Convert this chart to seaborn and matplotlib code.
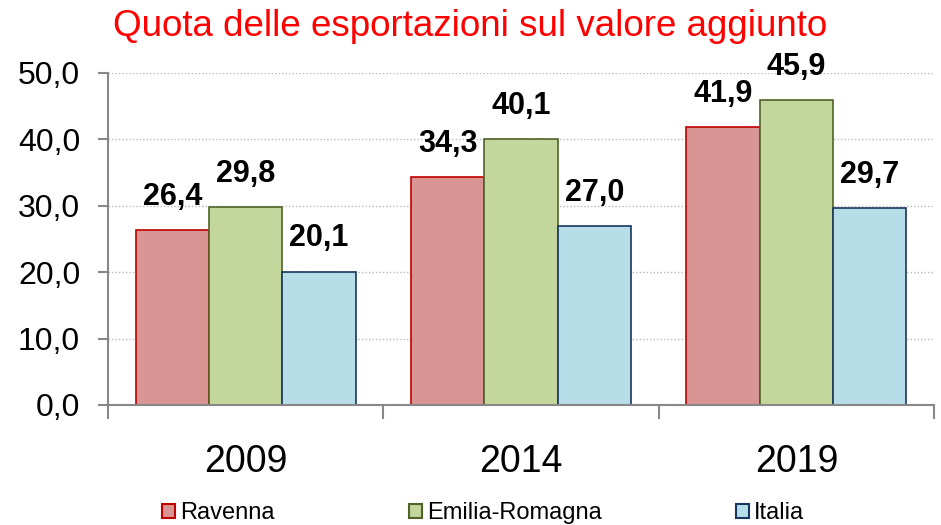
import pandas as pd
import matplotlib.pyplot as plt
import seaborn as sns
from matplotlib.patches import Patch
from matplotlib.ticker import FixedLocator

years = ['2009', '2014', '2019']
areas = ['Ravenna', 'Emilia-Romagna', 'Italia']
ravenna = [26.4, 34.3, 41.9]
emilia = [29.8, 40.1, 45.9]
italia = [20.1, 27.0, 29.7]

fills = ['#D99594', '#C3D69B', '#B7DEE8']
edges = ['#C00000', '#4F6228', '#17375E']

df = pd.DataFrame({
    'anno': years * 3,
    'area': [a for a in areas for _ in years],
    'quota': ravenna + emilia + italia,
})

sns.set_style('white')
plt.rcParams['font.family'] = ['Liberation Sans', 'DejaVu Sans']
plt.rcParams['text.color'] = 'black'
plt.rcParams['xtick.color'] = '#888888'
plt.rcParams['ytick.color'] = '#888888'
plt.rcParams['xtick.labelcolor'] = 'black'
plt.rcParams['ytick.labelcolor'] = 'black'

fig = plt.figure(figsize=(9.41, 5.25), dpi=100)
ax = fig.add_axes([108 / 941, 1 - 405 / 525, (934 - 108) / 941, (405 - 73) / 525])

sns.barplot(data=df, x='anno', y='quota', hue='area', hue_order=areas,
            palette=fills, width=0.8, gap=0, ax=ax, legend=False,
            saturation=1)

for i, cont in enumerate(ax.containers):
    for bar in cont:
        bar.set_edgecolor(edges[i])
        bar.set_linewidth(1.2)
    ax.bar_label(cont, labels=[f'{v:.1f}'.replace('.', ',') for v in cont.datavalues],
                 padding=13, fontsize=22, fontweight='bold', color='black')

ax.set_ylim(0, 50)
ax.set_xlim(-0.5, 2.5)
ax.set_yticks([0, 10, 20, 30, 40, 50])
ax.set_yticklabels([f'{v:.1f}'.replace('.', ',') for v in [0, 10, 20, 30, 40, 50]], fontsize=23)
ax.yaxis.grid(True, linestyle=(0, (1, 1.5)), color='#BBBBBB', linewidth=1)
ax.set_axisbelow(True)

# category labels centred, ticks at the group boundaries
ax.xaxis.set_major_locator(FixedLocator([-0.5, 0.5, 1.5, 2.5]))
ax.set_xticklabels([])
ax.tick_params(axis='x', which='major', bottom=True, length=10, width=1.5, direction='out')
ax.set_xticks([0, 1, 2], minor=True)
ax.set_xticklabels(years, minor=True, fontsize=27)
ax.tick_params(axis='x', which='minor', bottom=True, length=0, pad=28)
ax.tick_params(axis='y', left=True, length=7, width=1.5, direction='out', pad=13)

for side in ['top', 'right']:
    ax.spines[side].set_visible(False)
for side in ['left', 'bottom']:
    ax.spines[side].set_color('#888888')
    ax.spines[side].set_linewidth(1.5)

ax.set_xlabel('')
ax.set_ylabel('')

fig.text(0.5, 1 - 26 / 525, 'Quota delle esportazioni sul valore aggiunto',
         color='red', fontsize=26.5, ha='center', va='center')

handles = [Patch(facecolor=f, edgecolor=e, linewidth=1.5) for f, e in zip(fills, edges)]
fig.legend(handles, areas, loc='center', bbox_to_anchor=(483 / 941, 1 - 513 / 525), ncol=3,
           frameon=False, fontsize=17, handlelength=0.55, handleheight=0.55,
           handletextpad=0.2, columnspacing=5.7)

fig.savefig('out.png', dpi=100)
